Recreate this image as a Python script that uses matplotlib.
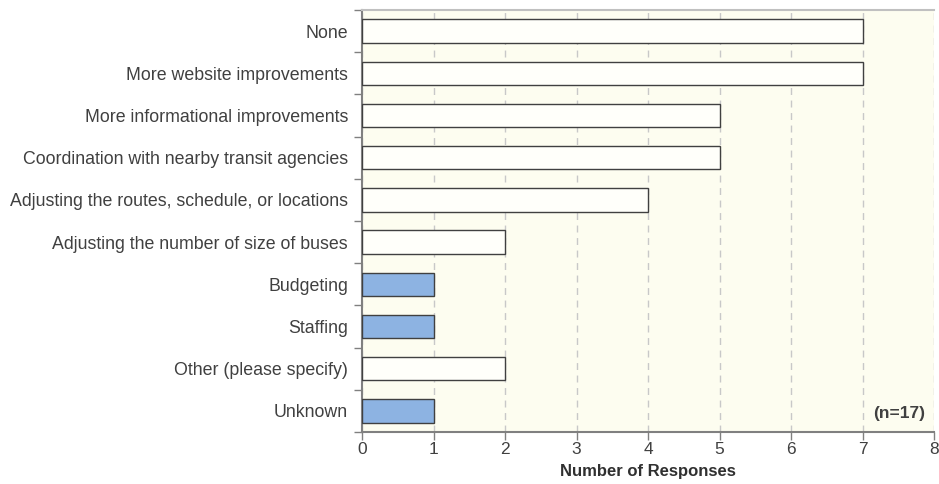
import matplotlib
matplotlib.use("Agg")
import matplotlib.pyplot as plt
from matplotlib.ticker import FixedLocator, NullFormatter

categories = ["None", "More website improvements", "More informational improvements",
              "Coordination with nearby transit agencies",
              "Adjusting the routes, schedule, or locations",
              "Adjusting the number of size of buses", "Budgeting", "Staffing",
              "Other (please specify)", "Unknown"]
values = [7, 7, 5, 5, 4, 2, 1, 1, 2, 1]
highlight = [False, False, False, False, False, False, True, True, False, True]
xticks = [0, 1, 2, 3, 4, 5, 6, 7, 8]

plt.rcParams['font.family'] = ['Liberation Sans', 'DejaVu Sans']

fig = plt.figure(figsize=(9.39, 4.84), dpi=100)
ax = fig.add_axes([362/939, 1-432/484, (934-362)/939, (432-10)/484])
ax.set_facecolor('#fdfdf0')

n = len(categories)
ys = list(range(n))
colors = ['#8db3e2' if h else '#fffffa' for h in highlight]
ax.barh(ys, values, height=0.55, color=colors, edgecolor='#404040', linewidth=1.0, zorder=3)

ax.set_ylim(n - 0.5, -0.5)
ax.set_xlim(0, 8)
ax.set_xticks(xticks)
ax.set_xticklabels([str(t) for t in xticks], fontsize=12.5, color='#404040')
ax.set_yticks(ys)
ax.set_yticklabels(categories, fontsize=12.8, color='#404040')
ax.tick_params(axis='y', which='major', length=0, pad=10)
ax.yaxis.set_minor_locator(FixedLocator([i - 0.5 for i in range(n + 1)]))
ax.yaxis.set_minor_formatter(NullFormatter())
ax.tick_params(axis='y', which='minor', length=6, color='#808080', width=1)
ax.tick_params(axis='x', length=6, color='#808080', width=1, pad=1.5)

ax.grid(axis='x', color='#c8c8c8', linestyle=(0, (5, 4)), linewidth=1, zorder=1)
for s in ['left', 'bottom']:
    ax.spines[s].set_color('#808080')
    ax.spines[s].set_linewidth(1.5)
ax.spines['top'].set_color('#c0c0c0')
ax.spines['top'].set_linewidth(1.5)
ax.spines['right'].set_visible(False)

ax.set_xlabel('Number of Responses', fontsize=12, fontweight='bold', color='#303030', labelpad=5)
ax.text(0.985, 0.045, '(n=17)', transform=ax.transAxes, ha='right', va='center',
        fontsize=12.5, fontweight='bold', color='#404040')

fig.savefig('out.png', dpi=100)
